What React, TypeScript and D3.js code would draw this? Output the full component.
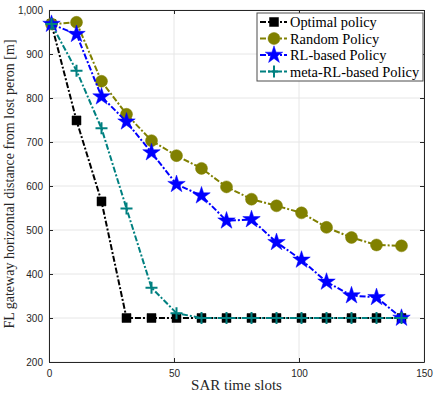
import React, { useEffect, useRef } from 'react';
import * as d3 from 'd3';

const slots = [1, 11, 21, 31, 41, 51, 61, 71, 81, 91, 101, 111, 121, 131, 141];
const optimal = [968, 749, 565, 300, 300, 300, 300, 300, 300, 300, 300, 300, 300, 300, 300];
const random = [968, 972, 838, 763, 703, 669, 640, 598, 570, 555, 539, 506, 483, 466, 464];
const rlBased = [968, 945, 803, 746, 676, 604, 578, 521, 524, 472, 432, 382, 351, 347, 300];
const metaRl = [968, 862, 731, 549, 369, 311, 300, 300, 300, 300, 300, 300, 300, 300, 300];
const seriesNames = ['Optimal policy', 'Random Policy', 'RL-based Policy', 'meta-RL-based Policy'];
const xTicks = [0, 50, 100, 150];
const yTicks = [200, 300, 400, 500, 600, 700, 800, 900, 1000];

const App = () => {
  const svgRef = useRef<SVGSVGElement>(null);

  useEffect(() => {
    const svg = d3.select(svgRef.current);
    svg.selectAll('*').remove();

    const W = 436, H = 395;
    const margin = { top: 10, right: 12, bottom: 33, left: 49 };
    const width = W - margin.left - margin.right;
    const height = H - margin.top - margin.bottom;
    svg.attr('width', W).attr('height', H);

    const g = svg.append('g').attr('transform', `translate(${margin.left},${margin.top})`);

    const x = d3.scaleLinear().domain([0, 150]).range([0, width]);
    const y = d3.scaleLinear().domain([200, 1000]).range([height, 0]);

    // grid
    g.selectAll('.gx').data(xTicks).enter().append('line')
      .attr('x1', d => x(d)).attr('x2', d => x(d)).attr('y1', 0).attr('y2', height)
      .attr('stroke', '#e6e6e6').attr('stroke-width', 1);
    g.selectAll('.gy').data(yTicks).enter().append('line')
      .attr('x1', 0).attr('x2', width).attr('y1', d => y(d)).attr('y2', d => y(d))
      .attr('stroke', '#e6e6e6').attr('stroke-width', 1);

    // axes (box with inward ticks)
    const axisColor = '#262626';
    const xb = g.append('g').attr('transform', `translate(0,${height})`)
      .call(d3.axisBottom(x).tickValues(xTicks).tickSizeInner(-4).tickSizeOuter(0).tickPadding(8));
    const yl = g.append('g')
      .call(d3.axisLeft(y).tickValues(yTicks).tickSizeInner(-4).tickSizeOuter(0).tickPadding(6));
    const xt = g.append('g')
      .call(d3.axisTop(x).tickValues(xTicks).tickSizeInner(-4).tickSizeOuter(0).tickFormat(() => ''));
    const yr = g.append('g').attr('transform', `translate(${width},0)`)
      .call(d3.axisRight(y).tickValues(yTicks).tickSizeInner(-4).tickSizeOuter(0).tickFormat(() => ''));
    [xb, yl, xt, yr].forEach(a => {
      a.selectAll('.domain').attr('stroke', axisColor).attr('stroke-width', 1);
      a.selectAll('.tick line').attr('stroke', axisColor);
      a.selectAll('text').attr('fill', '#262626').attr('font-family', 'Liberation Sans, Arial, sans-serif').attr('font-size', 10);
    });

    const dash = '6,2,2,2';
    const line = d3.line<[number, number]>().x(d => x(d[0])).y(d => y(d[1]));

    const symbolPath = (kind: string) => {
      if (kind === 'square') return d3.symbol(d3.symbolSquare, 81)();
      if (kind === 'circle') return d3.symbol(d3.symbolCircle, Math.PI * 36)();
      return d3.symbol(d3.symbolStar, 95)();
    };

    const drawMarker = (sel: any, kind: string, color: string) => {
      if (kind === 'plus') {
        sel.append('path').attr('d', 'M-6,0H6M0,-6V6')
          .attr('stroke', color).attr('stroke-width', 2).attr('fill', 'none');
      } else {
        sel.append('path').attr('d', symbolPath(kind))
          .attr('fill', color).attr('stroke', color).attr('stroke-width', 0.5);
      }
    };

    const series = [
      { name: seriesNames[0], values: optimal, color: '#000000', marker: 'square' },
      { name: seriesNames[1], values: random, color: '#808000', marker: 'circle' },
      { name: seriesNames[2], values: rlBased, color: '#0000ff', marker: 'star' },
      { name: seriesNames[3], values: metaRl, color: '#008080', marker: 'plus' },
    ];

    series.forEach(s => {
      const pts = slots.map((t, i) => [t, s.values[i]] as [number, number]);
      g.append('path').datum(pts)
        .attr('fill', 'none').attr('stroke', s.color).attr('stroke-width', 2)
        .attr('stroke-dasharray', dash).attr('d', line);
      pts.forEach(p => {
        const m = g.append('g').attr('transform', `translate(${x(p[0])},${y(p[1])})`);
        drawMarker(m, s.marker, s.color);
      });
    });

    // legend
    const lx = 208, ly = 3, lw = 166, lh = 68;
    const leg = g.append('g').attr('transform', `translate(${lx},${ly})`);
    leg.append('rect').attr('width', lw).attr('height', lh)
      .attr('fill', 'white').attr('stroke', '#4d4d4d').attr('stroke-width', 1);
    series.forEach((s, i) => {
      const yy = 9 + i * 16.5;
      leg.append('line').attr('x1', 3).attr('x2', 30).attr('y1', yy).attr('y2', yy)
        .attr('stroke', s.color).attr('stroke-width', 2).attr('stroke-dasharray', dash);
      const m = leg.append('g').attr('transform', `translate(17,${yy})`);
      drawMarker(m, s.marker, s.color);
      leg.append('text').attr('x', 33).attr('y', yy).attr('dy', '0.35em')
        .attr('font-family', 'Liberation Serif, Times New Roman, serif').attr('font-size', 14.4)
        .attr('fill', '#000').text(s.name);
    });

    // axis labels
    g.append('text').attr('x', width / 2).attr('y', height + 28)
      .attr('text-anchor', 'middle').attr('font-family', 'Liberation Serif, serif')
      .attr('font-size', 15).attr('fill', '#262626').text('SAR time slots');
    g.append('text').attr('transform', 'rotate(-90)')
      .attr('x', -height / 2 + 2).attr('y', -margin.left + 14)
      .attr('text-anchor', 'middle').attr('font-family', 'Liberation Serif, serif')
      .attr('font-size', 14).attr('fill', '#262626')
      .text('FL gateway horizontal distance from lost peron [m]');
  }, []);

  return <svg ref={svgRef} style={{ position: 'absolute', left: 0, top: 0 }}></svg>;
};

export default App;
